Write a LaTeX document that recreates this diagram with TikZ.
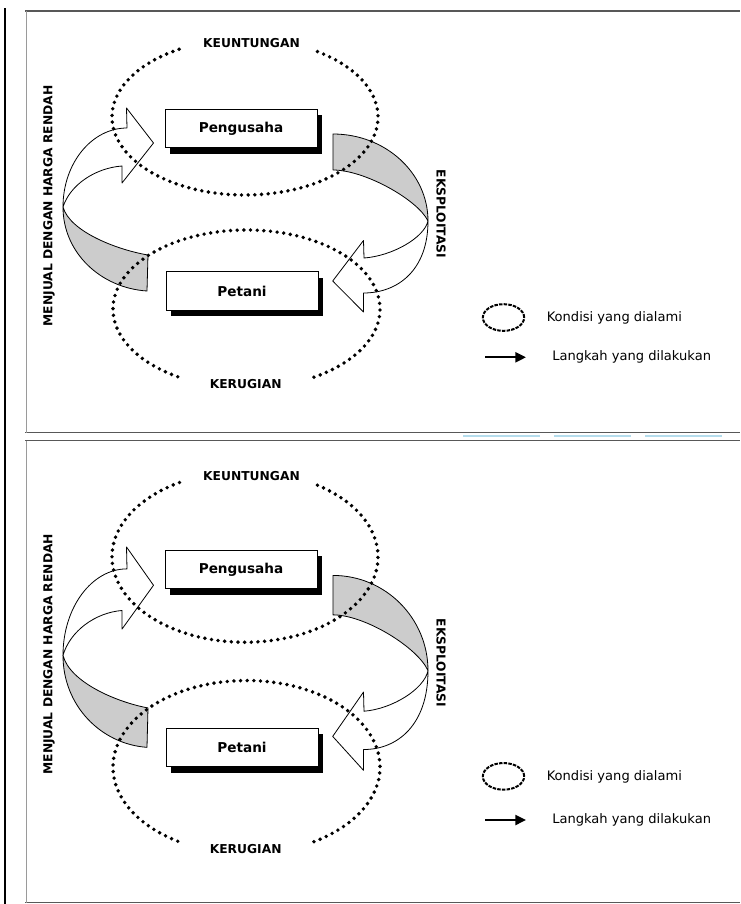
\documentclass[tikz,border=0pt]{standalone}
\usepackage{fontspec}
\setmainfont{DejaVu Sans}
\usetikzlibrary{arrows.meta, positioning, shadows, shapes.geometric}
\definecolor{cribbon}{HTML}{CCCCCC}
\definecolor{cframe}{HTML}{585858}
\definecolor{cedge}{HTML}{9A9A9A}
\definecolor{cstrip}{HTML}{B4DCEC}
\tikzset{
  actor/.style={
    draw=black, fill=white, line width=0.6pt,
    minimum width=114pt, minimum height=29pt, inner sep=0pt,
    font=\fontsize{10.2}{12}\selectfont\bfseries,
    general shadow={fill=black, shadow xshift=4pt, shadow yshift=-4.5pt},
  },
  ribbon/.style={draw=black, line width=0.6pt, line join=round},
  dotring/.style={line width=2.9pt, dash pattern=on 0pt off 5pt, line cap=round},
  lbl/.style={font=\fontsize{9.2}{11}\selectfont\bfseries, inner sep=1pt},
  legtxt/.style={font=\fontsize{9.8}{12}\selectfont, inner sep=1pt},
  legarr/.style={-{Triangle[length=8pt,width=7.5pt]}, line width=1.6pt},
}
\begin{document}
\begin{tikzpicture}[x=0.75pt, y=-0.75pt]
\useasboundingbox (0,0) rectangle (740,904);

%% ── page rules ────────────────────────────────────────────
\draw[line width=1.6pt] (5.3,8) -- (5.3,904);
\draw[cstrip, line width=1.5pt, dash pattern=on 57.75pt off 10.5pt] (463,436) -- (723,436);

%% ── two copies of the cycle (second one a bit taller) ─────
\foreach \p/\sy/\dy in {a/1/0, b/1.095/428.7}{
\begin{scope}[shift={(0,\dy)}, yscale=\sy]
  % frame
  \draw[cframe, line width=1.1pt] (25,11) -- (740,11);
  \draw[cframe, line width=1.1pt] (25,432.7) -- (740,432.7);
  \draw[cedge, line width=0.8pt] (26.7,11) -- (26.7,432.7);

  % left ribbon: Petani -> Pengusaha
  \filldraw[ribbon, fill=cribbon] (147,291) .. controls (101,288) and (63,253) .. (63,207)
    .. controls (70,232) and (118,250) .. (148,255) -- cycle;
  \filldraw[ribbon, fill=white] (63,207) .. controls (63,163) and (92,128) .. (127,128)
    -- (126.5,108) -- (153.5,143) -- (122,183) -- (122,166)
    .. controls (95,168) and (70,185) .. (63,207) -- cycle;

  % right ribbon: Pengusaha -> Petani
  \filldraw[ribbon, fill=cribbon] (333,134) .. controls (385.5,134) and (428,173) .. (428,221)
    .. controls (418,200) and (365,170) .. (333,170) -- cycle;
  \filldraw[ribbon, fill=white] (428,221) .. controls (428,270) and (398,293) .. (363.5,293)
    -- (363.5,312) -- (332.7,281) -- (363.5,240.5) -- (364,258)
    .. controls (392,256) and (424,238) .. (428,221) -- cycle;

  % actors
  \node[actor] (boss\p) at (241,128.5) {Pengusaha};
  \node[actor] (farmer\p) at (242,291) {Petani};

  % conditions
  \draw[dotring] (245,117) ++(-57:133 and 78)
    arc[start angle=-57, end angle=242, x radius=133, y radius=78];
  \draw[dotring] (246.5,309) ++(121:133.5 and 79)
    arc[start angle=121, end angle=421, x radius=133.5, y radius=79];
  \node[lbl] (gain\p) at (251.5,43) {KEUNTUNGAN};
  \node[lbl] (loss\p) at (245.7,384) {KERUGIAN};

  % steps
  \node[lbl, rotate=90] (sell\p) at (49,206) {MENJUAL DENGAN HARGA RENDAH};
  \node[lbl, rotate=-90] (exploit\p) at (441,214) {EKSPLOITASI};

  % legend
  \node[draw, ellipse, line width=1.5pt, dash pattern=on 2.6pt off 0.9pt,
        minimum width=31pt, minimum height=20pt, inner sep=0pt] (legring\p) at (503.5,317.5) {};
  \node[legtxt, right=15pt of legring\p] (legcond\p) {Kondisi yang dialami};
  \coordinate (legfrom\p) at (485,357.3);
  \coordinate (legto\p) at (526,357.3);
  \draw[legarr] (legfrom\p) -- (legto\p);
  \node[legtxt, right=18.5pt of legto\p] (legstep\p) {Langkah yang dilakukan};
\end{scope}
}

\end{tikzpicture}
\end{document}
